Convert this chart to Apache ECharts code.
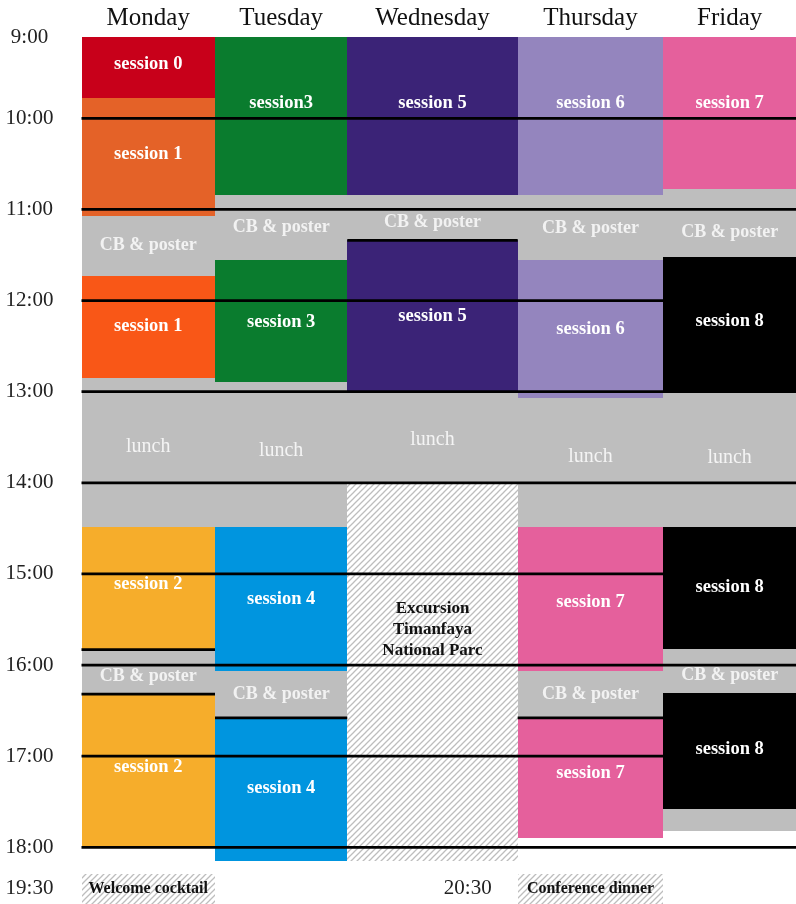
<!DOCTYPE html>
<html><head><meta charset="utf-8">
<script src="https://cdn.jsdelivr.net/npm/echarts@6/dist/echarts.min.js"></script>
<style>html,body{margin:0;padding:0;background:#fff}#c{width:796px;height:904px}</style>
</head><body><div id="c"></div>
<script>
// ---------- DATA ----------
const days = ['Monday', 'Tuesday', 'Wednesday', 'Thursday', 'Friday'];
const hourValues = [9, 10, 11, 12, 13, 14, 15, 16, 17, 18];
const hourLabels = ['9:00', '10:00', '11:00', '12:00', '13:00', '14:00', '15:00', '16:00', '17:00', '18:00'];
const dayStart = 9.11;

// [start (h), end (h), kind, label, label time (h)]
const monday = [
  [9.11, 9.78, 's0', 'session 0', 9.39],
  [9.78, 11.07, 's1a', 'session 1', 10.38],
  [11.07, 11.73, 'cb', 'CB & poster', 11.38],
  [11.73, 12.85, 's1b', 'session 1', 12.26],
  [12.85, 14.49, 'lunch', 'lunch', 13.59],
  [14.49, 15.83, 's2', 'session 2', 15.10],
  [15.83, 16.32, 'cb', 'CB & poster', 16.11],
  [16.32, 18.00, 's2', 'session 2', 17.11]
];
const tuesday = [
  [9.11, 10.84, 's3', 'session3', 9.82],
  [10.84, 11.56, 'cb', 'CB & poster', 11.18],
  [11.56, 12.89, 's3', 'session 3', 12.22],
  [12.89, 14.49, 'lunch', 'lunch', 13.63],
  [14.49, 16.07, 's4', 'session 4', 15.26],
  [16.07, 16.58, 'cb', 'CB & poster', 16.30],
  [16.58, 18.15, 's4', 'session 4', 17.33]
];
const wednesday = [
  [9.11, 10.84, 's5', 'session 5', 9.82],
  [10.84, 11.34, 'cb', 'CB & poster', 11.12],
  [11.34, 13.00, 's5', 'session 5', 12.15],
  [13.00, 14.00, 'lunch', 'lunch', 13.51],
  [14.00, 18.15, 'hatch', 'Excursion\nTimanfaya\nNational Parc', 15.60]
];
const thursday = [
  [9.11, 10.84, 's6', 'session 6', 9.82],
  [10.84, 11.56, 'cb', 'CB & poster', 11.19],
  [11.56, 13.07, 's6', 'session 6', 12.30],
  [13.07, 14.49, 'lunch', 'lunch', 13.70],
  [14.49, 16.07, 's7', 'session 7', 15.29],
  [16.07, 16.58, 'cb', 'CB & poster', 16.30],
  [16.58, 17.90, 's7', 'session 7', 17.17]
];
const friday = [
  [9.11, 10.78, 's7', 'session 7', 9.82],
  [10.78, 11.52, 'cb', 'CB & poster', 11.23],
  [11.52, 13.00, 's8', 'session 8', 12.21],
  [13.00, 14.49, 'lunch', 'lunch', 13.71],
  [14.49, 15.82, 's8', 'session 8', 15.13],
  [15.82, 16.31, 'cb', 'CB & poster', 16.10],
  [16.31, 17.58, 's8', 'session 8', 16.91],
  [17.58, 17.82, 'cb', '', null]
];
const schedule = [monday, tuesday, wednesday, thursday, friday];

// short separators: [day index, time]
const separators = [[0, 15.83], [0, 16.32], [1, 16.58], [2, 11.34], [3, 16.58]];

// evening events: [day index, label, time label]
const evening = [[0, 'Welcome cocktail', '19:30'], [3, 'Conference dinner', '20:30']];
const eveningRow = [18.29, 18.622];

// ---------- LAYOUT / STYLE ----------
const colWidths = [133.5, 132.3, 170.4, 145.6, 132.7];
const cum = [0];
colWidths.forEach(w => cum.push(cum[cum.length - 1] + w));
const totalW = cum[cum.length - 1];
const FONT = '"Liberation Serif", "Times New Roman", serif';
const Y_MIN = 9, Y_MAX = 18.622, PX_PER_H = 91.125;
const TEXT_DY = 1.5;

const colors = {
  s0: '#C8001A', s1a: '#E46228', s1b: '#F95717', s2: '#F6AD2B', s3: '#0A7C2E',
  s4: '#0095DF', s5: '#3B2377', s6: '#9485BE', s7: '#E5609C', s8: '#000000',
  cb: '#BEBEBE', lunch: '#BEBEBE'
};

function makeHatch() {
  const c = document.createElement('canvas');
  c.width = 6; c.height = 6;
  const g = c.getContext('2d');
  g.fillStyle = '#ffffff'; g.fillRect(0, 0, 6, 6);
  g.strokeStyle = '#bdbdbd'; g.lineWidth = 1.3;
  g.beginPath();
  g.moveTo(-1, 7); g.lineTo(7, -1);
  g.moveTo(-4, 4); g.lineTo(4, -4);
  g.moveTo(2, 10); g.lineTo(10, 2);
  g.stroke();
  return c;
}
const hatchFill = { image: makeHatch(), repeat: 'repeat' };

function fillFor(kind) { return kind === 'hatch' ? hatchFill : colors[kind]; }
function textStyleFor(kind) {
  if (kind === 'lunch') return { fill: '#F4F4F4', font: 'normal 20px ' + FONT };
  if (kind === 'cb') return { fill: '#F2F2F2', font: 'bold 18px ' + FONT };
  if (kind === 'hatch') return { fill: '#111111', font: 'bold 17px ' + FONT, lineHeight: 21 };
  return { fill: '#FFFFFF', font: 'bold 18.5px ' + FONT };
}
function rectFrom(p0, p1) {
  const x0 = Math.round(p0[0]), x1 = Math.round(p1[0]);
  const y0 = Math.round(p0[1]), y1 = Math.round(p1[1]);
  return { x: x0, y: y0, width: x1 - x0, height: y1 - y0 };
}

// flatten blocks
const blocks = [];
schedule.forEach((list, d) => list.forEach(b => blocks.push({ day: d, start: b[0], end: b[1], kind: b[2], label: b[3], labelAt: b[4] })));

const chart = echarts.init(document.getElementById('c'), null, { renderer: 'canvas' });

const option = {
  animation: false,
  backgroundColor: '#ffffff',
  grid: { left: 81.5, top: 27.175, width: totalW, height: (Y_MAX - Y_MIN) * PX_PER_H },
  xAxis: { type: 'value', min: 0, max: totalW, show: false },
  yAxis: { type: 'value', min: Y_MIN, max: Y_MAX, inverse: true, show: false },
  series: [
    { // blocks
      type: 'custom', clip: false, z: 2,
      data: blocks.map(b => [b.day, b.start, b.end]),
      renderItem(params, api) {
        const b = blocks[params.dataIndex];
        const p0 = api.coord([cum[b.day], b.start]);
        const p1 = api.coord([cum[b.day + 1], b.end]);
        const children = [{
          type: 'rect',
          shape: rectFrom(p0, p1),
          style: { fill: fillFor(b.kind) }
        }];
        if (b.label) {
          const pc = api.coord([(cum[b.day] + cum[b.day + 1]) / 2, b.labelAt != null ? b.labelAt : (b.start + b.end) / 2]);
          children.push({
            type: 'text', z2: 5,
            style: Object.assign({ text: b.label, x: pc[0], y: pc[1] + TEXT_DY, align: 'center', verticalAlign: 'middle' }, textStyleFor(b.kind))
          });
        }
        return { type: 'group', children };
      }
    },
    { // evening events
      type: 'custom', clip: false, z: 2,
      data: evening.map(e => [e[0]]),
      renderItem(params, api) {
        const e = evening[params.dataIndex];
        const d = e[0];
        const p0 = api.coord([cum[d], eveningRow[0]]);
        const p1 = api.coord([cum[d + 1], eveningRow[1]]);
        const mid = (eveningRow[0] + eveningRow[1]) / 2;
        const pc = api.coord([(cum[d] + cum[d + 1]) / 2, mid]);
        const children = [
          { type: 'rect', shape: rectFrom(p0, p1), style: { fill: hatchFill } },
          { type: 'text', style: { text: e[1], x: pc[0], y: pc[1], align: 'center', verticalAlign: 'middle', fill: '#111', font: 'bold 16px ' + FONT } }
        ];
        if (d === 0) {
          const pl = api.coord([0, mid]);
          children.push({ type: 'text', style: { text: e[2], x: pl[0] - 52, y: pl[1], align: 'center', verticalAlign: 'middle', fill: '#222', font: '21px ' + FONT } });
        } else {
          children.push({ type: 'text', style: { text: e[2], x: p0[0] - 26, y: pc[1], align: 'right', verticalAlign: 'middle', fill: '#222', font: '21px ' + FONT } });
        }
        return { type: 'group', children };
      }
    },
    { // hour lines + labels
      type: 'custom', clip: false, z: 5,
      data: hourValues.map(h => [h]),
      renderItem(params, api) {
        const h = hourValues[params.dataIndex];
        const children = [];
        const pl = api.coord([0, Math.max(h, dayStart)]);
        children.push({ type: 'text', style: { text: hourLabels[params.dataIndex], x: pl[0] - 52, y: pl[1], align: 'center', verticalAlign: 'middle', fill: '#222', font: '21px ' + FONT } });
        if (h > 9) {
          const a = api.coord([0, h]);
          const b = api.coord([totalW, h]);
          children.push({ type: 'line', shape: { x1: a[0], y1: a[1], x2: b[0], y2: b[1] }, style: { stroke: '#000', lineWidth: 2.8 } });
        }
        return { type: 'group', children };
      }
    },
    { // short separators
      type: 'custom', clip: false, z: 5,
      data: separators.map(s => [s[0], s[1]]),
      renderItem(params, api) {
        const s = separators[params.dataIndex];
        const a = api.coord([cum[s[0]], s[1]]);
        const b = api.coord([cum[s[0] + 1], s[1]]);
        return { type: 'line', shape: { x1: a[0], y1: a[1], x2: b[0], y2: b[1] }, style: { stroke: '#000', lineWidth: 2.8 } };
      }
    },
    { // day headers
      type: 'custom', clip: false, z: 5,
      data: days.map((d, i) => [i]),
      renderItem(params, api) {
        const i = params.dataIndex;
        const p = api.coord([(cum[i] + cum[i + 1]) / 2, 9]);
        return { type: 'text', style: { text: days[i], x: p[0], y: p[1] - 9, align: 'center', verticalAlign: 'middle', fill: '#111', font: '25px ' + FONT } };
      }
    }
  ]
};
chart.setOption(option);
</script>
</body></html>
